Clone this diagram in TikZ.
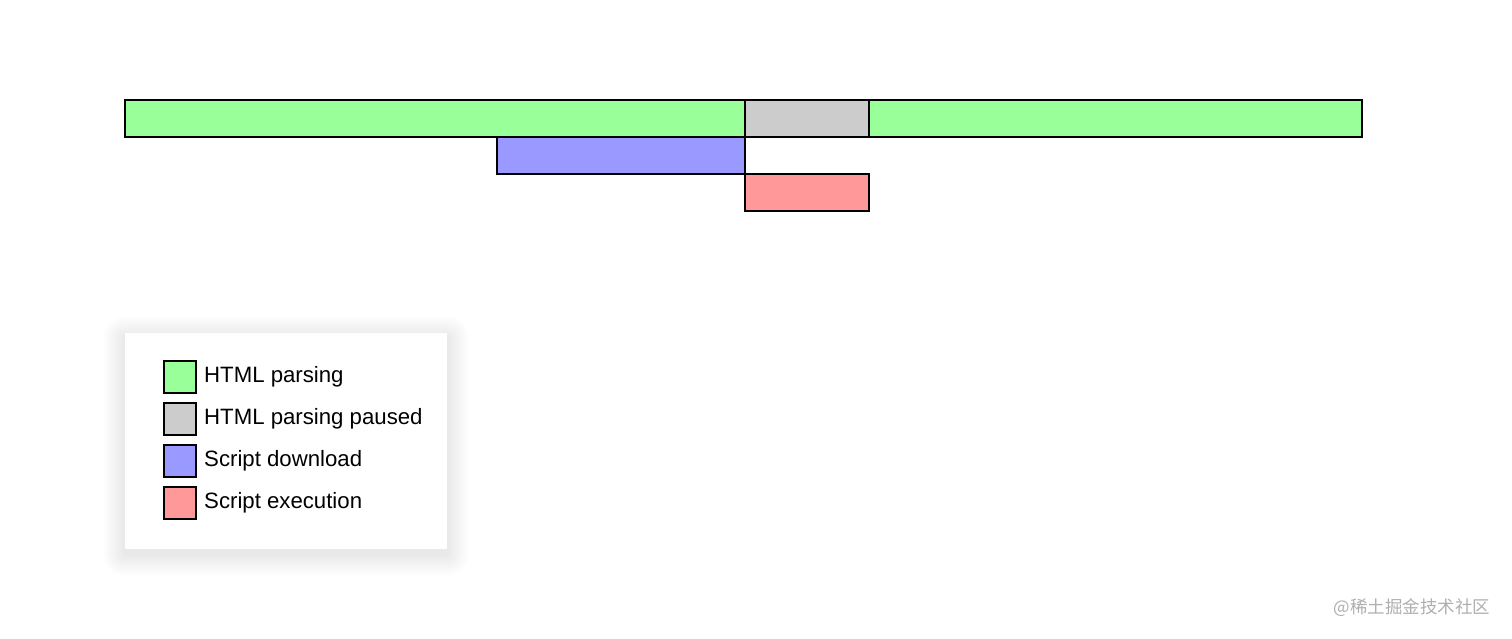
\documentclass[tikz,border=0pt]{standalone}
\usepackage{fontspec}
\setmainfont{Liberation Sans}
\newfontfamily\cjk{Noto Sans CJK SC}
\usetikzlibrary{positioning}

\definecolor{parsecol}{RGB}{153,255,153}
\definecolor{pausecol}{RGB}{204,204,204}
\definecolor{loadcol}{RGB}{153,153,255}
\definecolor{execcol}{RGB}{255,153,153}
\definecolor{markcol}{RGB}{175,175,175}

\begin{document}
\begin{tikzpicture}[x=1pt,y=-1pt,
    bar/.style={rectangle,draw,line width=2.3pt,inner sep=0pt,outer sep=0pt,minimum height=37pt},
    key/.style={rectangle,draw,line width=2.3pt,inner sep=0pt,outer sep=0pt,minimum size=32pt},
    keytext/.style={inner sep=0pt,anchor=west,font=\fontsize{22.2}{26}\selectfont},
    frame/.style={rectangle,fill=white,inner sep=0pt,minimum width=322pt,minimum height=216pt}
    ]
\useasboundingbox[fill=white] (0,0) rectangle (1512,638);

% Timeline bars
\node[bar,fill=parsecol,minimum width=620pt] (parse1) at (435,118.5) {};
\node[bar,fill=pausecol,minimum width=124pt,right=0pt of parse1] (pause) {};
\node[bar,fill=parsecol,minimum width=493pt,right=0pt of pause] (parse2) {};
\node[bar,fill=loadcol,minimum width=248pt,below left=0pt and 0pt of parse1.south east] (load) {};
\node[bar,fill=execcol,minimum width=124pt,below right=0pt and 0pt of load.south east] (exec) {};

% Legend with soft shadow
\foreach \s in {1,...,22}
  \fill[black,opacity=0.005,rounded corners=\s pt] (125-\s,333-\s+5) rectangle (447+\s,549+\s+5);
\node[frame] (legend) at (286,441) {};
\node[key,fill=parsecol] (k1) at (180,377) {};
\node[key,fill=pausecol] (k2) at (180,419) {};
\node[key,fill=loadcol] (k3) at (180,461) {};
\node[key,fill=execcol] (k4) at (180,503) {};
\node[keytext,right=8pt of k1] (t1) {HTML parsing};
\node[keytext,right=8pt of k2] (t2) {HTML parsing paused};
\node[keytext,right=8pt of k3] (t3) {Script download};
\node[keytext,right=8pt of k4] (t4) {Script execution};

\node[text=markcol,font=\cjk\fontsize{17.5}{20}\selectfont] (mark) at (1412,608) {@稀土掘金技术社区};

\end{tikzpicture}
\end{document}
